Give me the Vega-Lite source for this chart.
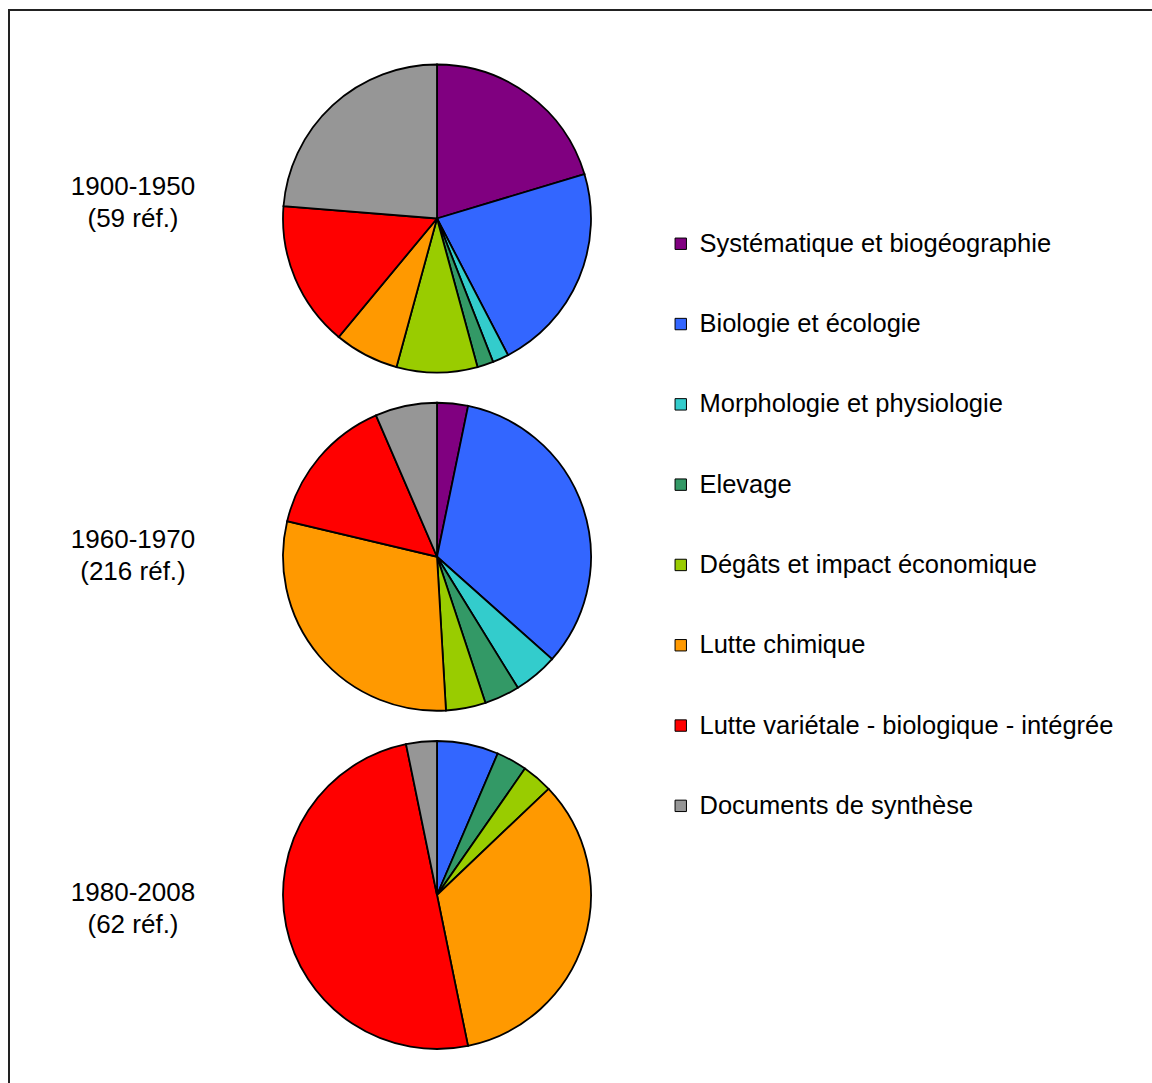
{
  "$schema": "https://vega.github.io/schema/vega-lite/v6.json",
  "width": 1144,
  "height": 1074,
  "autosize": {"type": "none"},
  "padding": {"left": 9, "top": 10, "right": 0, "bottom": 0},
  "background": "white",
  "config": {
    "view": {"stroke": "#222222", "strokeWidth": 2},
    "font": "Liberation Sans"
  },
  "datasets": {
    "slices": [
      {"period": "1900-1950", "k": 1, "category": "Systématique et biogéographie", "n": 12},
      {"period": "1900-1950", "k": 2, "category": "Biologie et écologie", "n": 13},
      {"period": "1900-1950", "k": 3, "category": "Morphologie et physiologie", "n": 1},
      {"period": "1900-1950", "k": 4, "category": "Elevage", "n": 1},
      {"period": "1900-1950", "k": 5, "category": "Dégâts et impact économique", "n": 5},
      {"period": "1900-1950", "k": 6, "category": "Lutte chimique", "n": 4},
      {"period": "1900-1950", "k": 7, "category": "Lutte variétale - biologique - intégrée", "n": 9},
      {"period": "1900-1950", "k": 8, "category": "Documents de synthèse", "n": 14},
      {"period": "1960-1970", "k": 1, "category": "Systématique et biogéographie", "n": 7},
      {"period": "1960-1970", "k": 2, "category": "Biologie et écologie", "n": 72},
      {"period": "1960-1970", "k": 3, "category": "Morphologie et physiologie", "n": 10},
      {"period": "1960-1970", "k": 4, "category": "Elevage", "n": 8},
      {"period": "1960-1970", "k": 5, "category": "Dégâts et impact économique", "n": 9},
      {"period": "1960-1970", "k": 6, "category": "Lutte chimique", "n": 64},
      {"period": "1960-1970", "k": 7, "category": "Lutte variétale - biologique - intégrée", "n": 32},
      {"period": "1960-1970", "k": 8, "category": "Documents de synthèse", "n": 14},
      {"period": "1980-2008", "k": 2, "category": "Biologie et écologie", "n": 4},
      {"period": "1980-2008", "k": 4, "category": "Elevage", "n": 2},
      {"period": "1980-2008", "k": 5, "category": "Dégâts et impact économique", "n": 2},
      {"period": "1980-2008", "k": 6, "category": "Lutte chimique", "n": 21},
      {"period": "1980-2008", "k": 7, "category": "Lutte variétale - biologique - intégrée", "n": 31},
      {"period": "1980-2008", "k": 8, "category": "Documents de synthèse", "n": 2}
    ],
    "periods": [
      {"period": "1900-1950", "label": "1900-1950\n(59 réf.)"},
      {"period": "1960-1970", "label": "1960-1970\n(216 réf.)"},
      {"period": "1980-2008", "label": "1980-2008\n(62 réf.)"}
    ]
  },
  "layer": [
    {
      "data": {"name": "slices"},
      "transform": [
        {"stack": "n", "groupby": ["period"], "sort": [{"field": "k", "order": "ascending"}], "offset": "normalize", "as": ["t0", "t1"]}
      ],
      "mark": {"type": "arc", "outerRadius": 154, "stroke": "black", "strokeWidth": 1.8},
      "encoding": {
        "x": {"datum": "pie", "type": "nominal", "scale": {"type": "point", "domain": ["label", "pie"], "range": [124, 428], "padding": 0}, "axis": null},
        "y": {"field": "period", "type": "ordinal", "scale": {"type": "point", "domain": ["1900-1950", "1960-1970", "1980-2008"], "range": [208.5, 885], "padding": 0}, "axis": null},
        "theta": {"field": "t0", "type": "quantitative", "scale": {"domain": [0, 1]}},
        "theta2": {"field": "t1"},
        "color": {
          "field": "category",
          "type": "nominal",
          "scale": {
            "domain": ["Systématique et biogéographie", "Biologie et écologie", "Morphologie et physiologie", "Elevage", "Dégâts et impact économique", "Lutte chimique", "Lutte variétale - biologique - intégrée", "Documents de synthèse"],
            "range": ["#800080", "#3366FF", "#33CCCC", "#339966", "#99CC00", "#FF9900", "#FF0000", "#969696"]
          },
          "legend": {
            "orient": "none",
            "legendX": 659,
            "legendY": 221,
            "title": null,
            "padding": 0,
            "symbolType": "square",
            "symbolSize": 130,
            "symbolStrokeColor": "black",
            "symbolStrokeWidth": 1,
            "symbolOpacity": 1,
            "labelFont": "Liberation Sans",
            "labelFontSize": 25.5,
            "labelColor": "black",
            "labelOffset": 6,
            "labelLimit": 0,
            "rowPadding": 53.3
          }
        }
      }
    },
    {
      "data": {"name": "periods"},
      "mark": {"type": "text", "font": "Liberation Sans", "fontSize": 26, "lineBreak": "\n", "lineHeight": 32, "align": "center", "baseline": "middle", "color": "black"},
      "encoding": {
        "x": {"datum": "label", "type": "nominal"},
        "y": {"field": "period", "type": "ordinal", "scale": {"type": "point", "domain": ["1900-1950", "1960-1970", "1980-2008"], "range": [177, 883], "padding": 0}, "axis": null},
        "text": {"field": "label"}
      }
    }
  ],
  "resolve": {"scale": {"y": "independent"}}
}
